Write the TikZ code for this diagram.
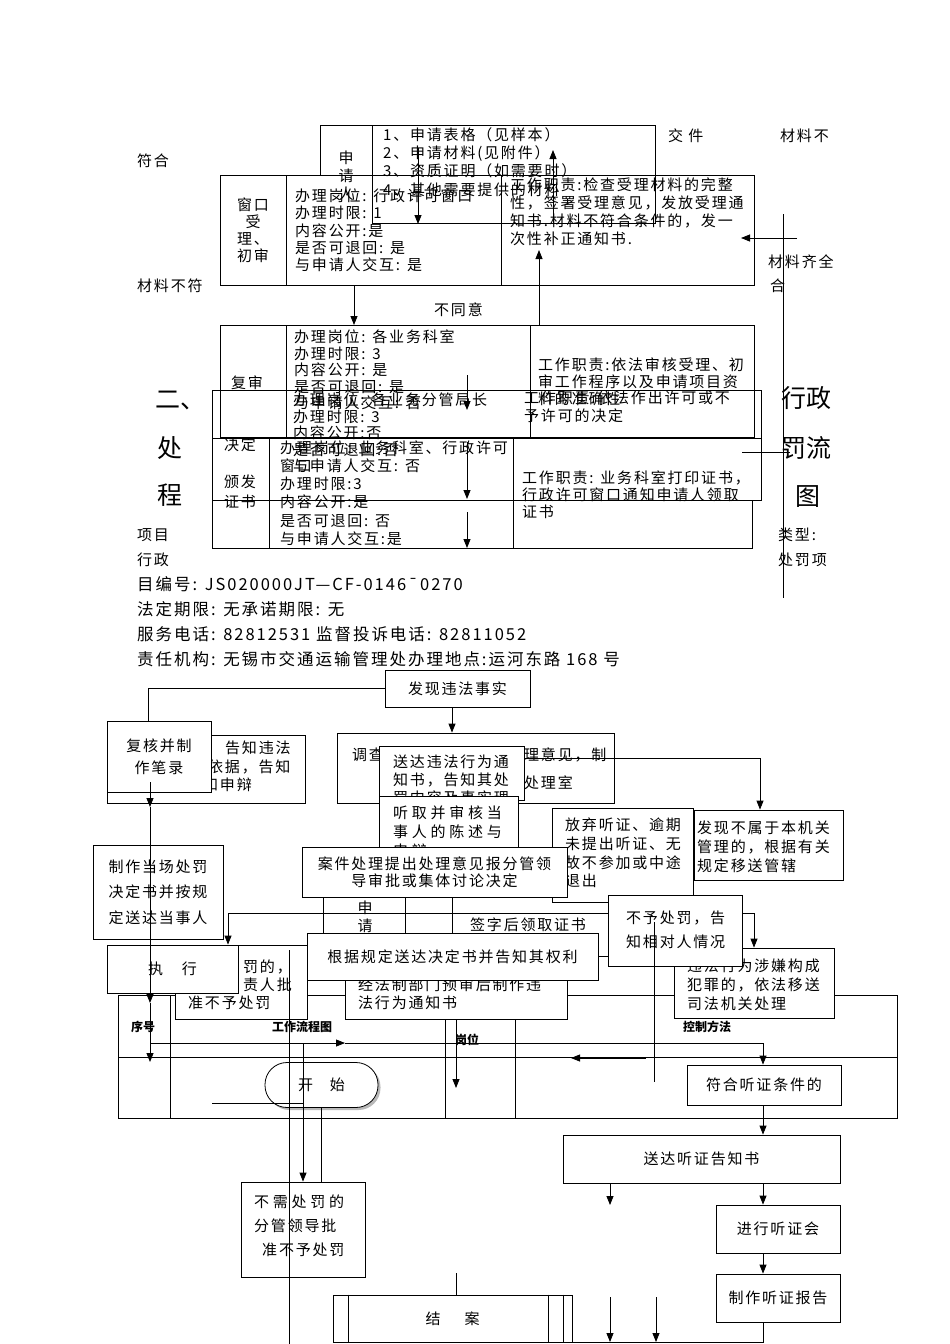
\documentclass[tikz,border=0pt]{standalone}
\usepackage{fontspec}
\setmainfont{Noto Sans CJK SC}
\newfontfamily\spc{Noto Sans CJK SC}[LetterSpace=12]
\newfontfamily\spw{Noto Sans CJK SC}[LetterSpace=25]
\usetikzlibrary{arrows.meta, shadows}
\newcommand{\fsz}[1]{\spc\fontsize{15}{#1}\selectfont}
\newcommand{\fsw}[1]{\spw\fontsize{15}{#1}\selectfont}

\tikzset{
  ln/.style={line width=0.8pt},
  arr/.style={line width=0.8pt, -{Stealth[length=9pt, width=7pt, inset=0pt]}},
  box/.style={draw, fill=white, line width=0.8pt, inner sep=0pt, align=center, font=\fsz{17}},
  tx/.style={anchor=west, inner sep=0pt, align=left, font=\fsz{17}},
  tc/.style={inner sep=0pt, align=center, font=\fsz{17}},
  info/.style={anchor=west, inner sep=0pt, font=\spc\fontsize{16.5}{20}\selectfont},
  big/.style={anchor=west, inner sep=0pt, font=\fontsize{25}{30}\selectfont},
  hd/.style={inner sep=0pt, font=\fontsize{12}{14}\selectfont\bfseries},
}

\begin{document}
\begin{tikzpicture}[x=1pt, y=-1pt]
\useasboundingbox (0,0) rectangle (950,1344);

% application form and window
\draw[ln] (320,175) -- (320,125) -- (655,125) -- (655,223) -- (372,223);
\draw[ln] (372,125) -- (372,223);
\draw[ln] (220,175) rectangle (754,285);
\draw[ln] (286,175) -- (286,285);
\draw[ln] (501,175) -- (501,285);

\node[tx] (fh) at (137,161) {符合};
\node[tx] (jj) at (668,136) {交\ 件};
\node[tx] (clb) at (780,136) {材料不};
\node[tx] (clbf) at (137,286) {材料不符};
\node[tx] (clqq) at (768,262) {材料齐全};
\node[tx] (he) at (770,286) {合};
\node[tx] (bty) at (434,310) {不同意};

\node[tc, font=\fsz{18}] (sqr) at (346,176) {申\\请\\人};
\node[tx, font=\fsz{18.3}] (sqcl) at (383,162) {1、申请表格（见样本）\\2、申请材料(见附件）\\3、资质证明（如需要时）\\4、其他需要提供的材料};
\node[tc] (ck) at (253,230.5) {窗口\\受\\理、\\初审};
\node[tx, font=\fsz{17.25}] (ckbl) at (295,230.5) {办理岗位: 行政许可窗口\\办理时限: 1\\内容公开:是\\是否可退回: 是\\与申请人交互: 是};
\node[tx, font=\fsz{18}] (ckzz) at (510,212) {工作职责:检查受理材料的完整\\性，签署受理意见，发放受理通\\知书.材料不符合条件的，发一\\次性补正通知书.};

\coordinate (a1) at (418,148);
\coordinate (a2) at (418,224);
\coordinate (a3) at (553,223);
\coordinate (a4) at (553,150);
\coordinate (a5) at (797,238);
\coordinate (a6) at (741,238);
\coordinate (a7) at (354,285);
\coordinate (a8) at (354,325);
\coordinate (a9) at (539,325);
\coordinate (a10) at (539,250);
\coordinate (v1) at (783,214);
\coordinate (v2) at (783,598);
\draw[arr] (a1) -- (a2);
\draw[arr] (a3) -- (a4);
\draw[arr] (a5) -- (a6);
\draw[arr] (a7) -- (a8);
\draw[arr] (a9) -- (a10);
\draw[ln] (v1) -- (v2);

% review, decision, licence
\draw[ln] (220,325) rectangle (754,437);
\draw[ln] (286,325) -- (286,437);
\draw[ln] (530,325) -- (530,437);
\draw[ln] (212,390) rectangle (761,500);
\draw[ln] (212,438) -- (761,438);
\draw[ln] (212,500) rectangle (752,548);
\draw[ln] (269,438) -- (269,548);
\draw[ln] (513,438) -- (513,548);

\node[tc] (fs) at (247,383) {复审};
\node[tx, font=\fsz{16.5}] (fsbl) at (294,370) {办理岗位: 各业务科室\\办理时限: 3\\内容公开: 是\\是否可退回: 是\\与申请人交互: 否};
\node[tx] (fszz) at (538,382) {工作职责:依法审核受理、初\\审工作程序以及申请项目资\\料的准确性};
\node[tc] (jd) at (240,445) {决定};
\node[tx, font=\fsz{16.5}] (jdbl) at (293,433) {办理岗位: 各业务分管局长\\办理时限: 3\\内容公开:否\\是否可退回:否\\与申请人交互: 否};
\node[tx, font=\fsz{18}] (jdzz) at (524,407) {工作职责:依法作出许可或不\\予许可的决定};
\node[tc, font=\fsz{20}] (bf) at (240,492) {颁发\\证书};
\node[tx, font=\fsz{18.2}] (bfbl) at (280,493) {办理岗位: 业务科室、行政许可\\窗口\\办理时限:3\\内容公开:是\\是否可退回: 否\\与申请人交互:是};
\node[tx] (bfzz) at (522,495) {工作职责: 业务科室打印证书，\\行政许可窗口通知申请人领取\\证书};

\coordinate (m1) at (467,375);
\coordinate (m2) at (467,410);
\coordinate (m3) at (467,442);
\coordinate (m4) at (467,499);
\coordinate (m5) at (467,512);
\coordinate (m6) at (467,548);
\coordinate (m7) at (742,452);
\coordinate (m8) at (790,452);
\draw[arr] (m1) -- (m2);
\draw[arr] (m3) -- (m4);
\draw[arr] (m5) -- (m6);
\draw[ln] (m7) -- (m8);

\node[big] (er) at (155,400) {二、};
\node[big] (chu) at (157,448) {处};
\node[big] (cheng) at (157,495) {程};
\node[big] (xz) at (781,398) {行政};
\node[big] (fl) at (781,448) {罚流};
\node[big] (tu) at (795,497) {图};

\node[tx] (xm) at (137,535) {项目};
\node[tx] (xzh) at (137,560) {行政};
\node[tx] (lx) at (778,535) {类型:};
\node[tx] (cfx) at (778,560) {处罚项};

\node[info] (bh) at (137,584) {目编号: JS020000JT—CF-0146¯0270};
\node[info] (qx) at (137,609) {法定期限: 无承诺期限: 无};
\node[info] (dh) at (137,634) {服务电话: 82812531 监督投诉电话: 82811052};
\node[info] (zr) at (137,659) {责任机构: 无锡市交通运输管理处办理地点:运河东路 168 号};

% flow of the penalty
\draw[ln] (118,995) rectangle (897,1118);
\draw[ln] (118,1057) -- (897,1057);
\foreach \x in {170,445,515}
  \draw[ln] (\x,995) -- (\x,1118);
\node[hd] (xh) at (143,1027) {序号};
\node[hd] (lct) at (302,1027) {工作流程图};
\node[hd] (gw) at (467,1040) {岗位};
\node[hd] (kz) at (707,1027) {控制方法};

\node[box, minimum width=198pt, minimum height=68pt] (gzwf) at (206,769) {};
\node[tx] (gzwf1) at (225,748) {告知违法};
\node[tx] (gzwf2) at (208,767) {依据，告知};
\node[tx] (gzwf3) at (203,785) {和申辩};
\node[box, minimum width=104pt, minimum height=71pt, font=\fsz{22}] (fuhe) at (159,757) {复核并制\\作笔录};
\node[box, minimum width=145pt, minimum height=37pt] (fx) at (457.5,688.5) {发现违法事实};
\node[box, minimum width=277pt, minimum height=70pt] (dc) at (475.5,768) {};
\node[tx] (dc1) at (352,755) {调查};
\node[tx] (dc2) at (524,755) {理意见，制};
\node[tx] (dc3) at (524,783) {处理室};
\node[box, minimum width=145pt, minimum height=54pt] (sd) at (451.5,773) {};
\node[tx, font=\fsz{18}] (sdt) at (393,780) {送达违法行为通\\知书，告知其处\\罚内容及事实理};
\node[box, minimum width=139pt, minimum height=56pt] (tq) at (448.5,824) {};
\node[tx, font=\fsw{19}] (tqt) at (393,832) {听取并审核当\\事人的陈述与\\申辩};
\node[box, minimum width=149pt, minimum height=70pt] (bsy) at (768.5,845) {};
\node[tx, font=\fsz{19}] (bsyt) at (697,847) {发现不属于本机关\\管理的，根据有关\\规定移送管辖};
\node[box, minimum width=141pt, minimum height=94pt] (fq) at (622.5,855) {};
\node[tx, font=\fsz{18.7}] (fqt) at (565,853) {放弃听证、逾期\\未提出听证、无\\故不参加或中途\\退出};

\foreach \x in {323,405,452}
  \draw[ln] (\x,897) -- (\x,933);
\node[tc, font=\fsz{18}] (sq2) at (365,917) {申\\请};
\node[tx] (qz) at (470,925) {签字后领取证书};

\node[box, minimum width=265pt, minimum height=50pt, font=\fsz{17.5}] (aj) at (434.5,872) {案件处理提出处理意见报分管领\\导审批或集体讨论决定};
\node[box, minimum width=130pt, minimum height=94pt, font=\fsz{25.5}] (zz) at (158,892) {制作当场处罚\\决定书并按规\\定送达当事人};
\node[box, minimum width=132pt, minimum height=74pt] (bcf) at (241,982) {};
\node[tx] (bcf1) at (243,967) {罚的，};
\node[tx] (bcf2) at (243,985) {责人批};
\node[tx] (bcf3) at (188,1003) {准不予处罚};
\node[box, minimum width=131pt, minimum height=48pt] (zx) at (172.5,969) {执\hspace{19pt}行};
\node[box, minimum width=222pt, minimum height=50pt] (jf) at (456,994) {};
\node[tx, font=\fsz{18}] (jft) at (358,994) {经法制部门预审后制作违\\法行为通知书};
\node[box, minimum width=291pt, minimum height=47pt] (gj) at (452.5,956.5) {根据规定送达决定书并告知其权利};
\node[box, minimum width=160pt, minimum height=70pt] (wf) at (754,983) {};
\node[tx, font=\fsz{19}] (wft) at (687,985) {违法行为涉嫌构成\\犯罪的，依法移送\\司法机关处理};
\node[box, minimum width=134pt, minimum height=71pt] (by) at (675,930.5) {};
\node[tx, font=\fsz{24}] (byt) at (626,930) {不予处罚，告\\知相对人情况};

\node[draw, fill=white, line width=0.8pt, rounded corners=22pt, minimum width=113pt, minimum height=45pt, drop shadow={shadow xshift=2.5pt, shadow yshift=-2.5pt, fill=black!55}, font=\fsz{17}] (ks) at (321.5,1085) {开\hspace{17pt}始};
\node[box, minimum width=154pt, minimum height=40pt] (fhtz) at (764,1085) {符合听证条件的};
\node[box, minimum width=277pt, minimum height=48pt] (sdtz) at (701.5,1159) {送达听证告知书};
\node[box, minimum width=124pt, minimum height=48pt] (jx) at (778,1229) {进行听证会};
\node[box, minimum width=124pt, minimum height=48pt] (zb) at (778,1298) {制作听证报告};
\node[box, minimum width=124pt, minimum height=95pt] (bx) at (303,1229.5) {};
\node[tx, font=\fsz{24}] (bxt) at (254,1226) {{\spw 不需处罚的}\\分管领导批\\\hspace{8pt}准不予处罚};
\node[box, minimum width=239pt, minimum height=47pt] (ja) at (452.5,1318.5) {结\hspace{24pt}案};
\foreach \s in {16,216,231}
  \draw[ln] ([xshift=\s pt]ja.north west) -- ([xshift=\s pt]ja.south west);

% connectors
\coordinate (l1) at (150,782);
\coordinate (l2) at (150,807);
\coordinate (l3) at (150,1003);
\coordinate (l4) at (150,1062);
\coordinate (h1) at (150,1043);
\coordinate (h2) at (345,1043);
\coordinate (h3) at (763,1043);
\coordinate (h4) at (303,1043);
\coordinate (k1) at (212,1103);
\coordinate (k2) at (303,1103);
\coordinate (g1) at (289,950);
\coordinate (g2) at (289,1344);
\coordinate (q1) at (654,922);
\coordinate (q2) at (654,1082);
\coordinate (q3) at (646,1058);
\coordinate (q4) at (571,1058);
\coordinate (f1) at (456,1088);
\coordinate (r1) at (610,1183);
\coordinate (r2) at (610,1205);
\coordinate (r3) at (610,1297);
\coordinate (r4) at (610,1342);
\coordinate (r5) at (656,1297);
\coordinate (r6) at (656,1342);

\draw[ln] (fx.west) -| ([xshift=-11pt]fuhe.north);
\draw[arr] ([xshift=-5.5pt]fx.south) -- ([xshift=-5.5pt]fx.south |- dc.north);
\draw[arr] ([yshift=15pt]sd.east) -| ([xshift=-8.5pt]bsy.north);
\draw[arr] (l1) -- (l2);
\draw[arr] (l2) -- (l3);
\draw[arr] (l3) -- (l4);
\draw[arr] ([yshift=17.5pt]by.west) -| ([xshift=55.5pt]zx.north);
\draw[ln] (gj.east) -- (gj.east -| by.west);
\draw[arr] ([yshift=17.5pt]by.east) -| (wf.north);
\draw[ln] (q1) -- (q2);
\draw[arr] (q3) -- (q4);
\draw[arr] (jf.south) -- (f1);
\draw[ln] (g1) -- (g2);
\draw[arr] (h1) -- (h2);
\draw[ln] (h2) -- (h3);
\draw[arr] (h3) -- (h3 |- fhtz.north);
\draw[arr] (h4) -- (bx.north);
\draw[ln] (k1) -- (k2);
\draw[ln] (ks.south) -- (ks.south |- bx.north);
\draw[ln] ([xshift=3.5pt]ja.north) -- ++(0,-22);
\draw[arr] (fhtz.south -| h3) -- (sdtz.north -| h3);
\draw[arr] (sdtz.south -| h3) -- (jx.north -| h3);
\draw[arr] (jx.south -| h3) -- (zb.north -| h3);
\draw[ln] (zb.south -| h3) |- (ja.south east);
\draw[arr] (r1) -- (r2);
\draw[arr] (r3) -- (r4);
\draw[arr] (r5) -- (r6);

\end{tikzpicture}
\end{document}
